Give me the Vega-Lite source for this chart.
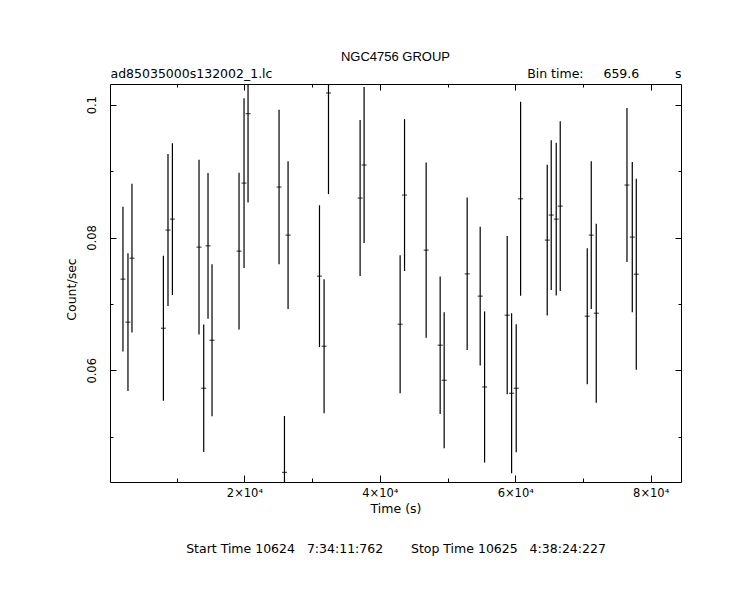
{
  "$schema": "https://vega.github.io/schema/vega-lite/v6.json",
  "width": 571,
  "height": 398,
  "autosize": "none",
  "padding": {"left": 110, "top": 84, "right": 62, "bottom": 125},
  "background": "white",
  "config": {
    "view": {"stroke": "black", "strokeWidth": 1},
    "axis": {
      "grid": false, "domain": false, "tickColor": "black", "tickWidth": 1,
      "labelColor": "black", "titleColor": "black",
      "labelFont": "DejaVu Sans", "titleFont": "DejaVu Sans",
      "labelFontSize": 11.5, "titleFontSize": 12.5, "titleFontWeight": "normal"
    }
  },
  "title": {
    "text": "NGC4756 GROUP", "font": "Liberation Sans", "fontSize": 13, "fontWeight": "normal",
    "color": "black", "anchor": "middle", "baseline": "alphabetic", "offset": -6
  },
  "data": {
    "values": [
      {"t": 2064, "rate": 0.07373, "lo": 0.06282, "hi": 0.08464},
      {"t": 2803, "rate": 0.06725, "lo": 0.05687, "hi": 0.07763},
      {"t": 3395, "rate": 0.07689, "lo": 0.06568, "hi": 0.0881},
      {"t": 8035, "rate": 0.06634, "lo": 0.05543, "hi": 0.07725},
      {"t": 8715, "rate": 0.08112, "lo": 0.06968, "hi": 0.09256},
      {"t": 9365, "rate": 0.08277, "lo": 0.07133, "hi": 0.09421},
      {"t": 13296, "rate": 0.07855, "lo": 0.06538, "hi": 0.09172},
      {"t": 13990, "rate": 0.0573, "lo": 0.0477, "hi": 0.0669},
      {"t": 14626, "rate": 0.07875, "lo": 0.06777, "hi": 0.08973},
      {"t": 15217, "rate": 0.06453, "lo": 0.05307, "hi": 0.07599},
      {"t": 19207, "rate": 0.07795, "lo": 0.06614, "hi": 0.08976},
      {"t": 19946, "rate": 0.0882, "lo": 0.07541, "hi": 0.10099},
      {"t": 20537, "rate": 0.09865, "lo": 0.08528, "hi": 0.11202},
      {"t": 25118, "rate": 0.0876, "lo": 0.07597, "hi": 0.09923},
      {"t": 25916, "rate": 0.04463, "lo": 0.03614, "hi": 0.05312},
      {"t": 26448, "rate": 0.08036, "lo": 0.06923, "hi": 0.09149},
      {"t": 31088, "rate": 0.07418, "lo": 0.0635, "hi": 0.08486},
      {"t": 31768, "rate": 0.06363, "lo": 0.05355, "hi": 0.07371},
      {"t": 32418, "rate": 0.10177, "lo": 0.08654, "hi": 0.117},
      {"t": 37088, "rate": 0.08594, "lo": 0.0742, "hi": 0.09768},
      {"t": 37679, "rate": 0.09092, "lo": 0.07918, "hi": 0.10266},
      {"t": 42999, "rate": 0.06694, "lo": 0.05656, "hi": 0.07732},
      {"t": 43650, "rate": 0.08639, "lo": 0.07495, "hi": 0.09783},
      {"t": 46842, "rate": 0.0781, "lo": 0.06489, "hi": 0.09131},
      {"t": 48911, "rate": 0.06378, "lo": 0.05343, "hi": 0.07413},
      {"t": 49502, "rate": 0.0585, "lo": 0.04827, "hi": 0.06873},
      {"t": 52900, "rate": 0.07453, "lo": 0.06305, "hi": 0.08601},
      {"t": 54822, "rate": 0.07117, "lo": 0.06071, "hi": 0.08163},
      {"t": 55472, "rate": 0.05749, "lo": 0.04611, "hi": 0.06887},
      {"t": 58812, "rate": 0.0683, "lo": 0.05639, "hi": 0.08021},
      {"t": 59462, "rate": 0.05654, "lo": 0.04448, "hi": 0.0686},
      {"t": 60142, "rate": 0.0573, "lo": 0.04767, "hi": 0.06693},
      {"t": 60792, "rate": 0.08583, "lo": 0.07123, "hi": 0.10043},
      {"t": 64723, "rate": 0.07961, "lo": 0.06825, "hi": 0.09097},
      {"t": 65314, "rate": 0.08338, "lo": 0.0721, "hi": 0.09466},
      {"t": 66053, "rate": 0.08277, "lo": 0.07126, "hi": 0.09428},
      {"t": 66644, "rate": 0.08473, "lo": 0.07194, "hi": 0.09752},
      {"t": 70634, "rate": 0.06815, "lo": 0.05792, "hi": 0.07838},
      {"t": 71225, "rate": 0.08036, "lo": 0.06923, "hi": 0.09149},
      {"t": 71964, "rate": 0.0686, "lo": 0.05513, "hi": 0.08207},
      {"t": 76501, "rate": 0.0879, "lo": 0.07631, "hi": 0.09949},
      {"t": 77284, "rate": 0.08006, "lo": 0.06873, "hi": 0.09139},
      {"t": 77875, "rate": 0.07448, "lo": 0.0601, "hi": 0.08886}
    ]
  },
  "layer": [
    {
      "mark": {"type": "rule", "color": "black", "strokeWidth": 1.2, "clip": true},
      "encoding": {
        "x": {
          "field": "t", "type": "quantitative",
          "scale": {"domain": [150, 84480], "nice": false, "zero": false},
          "axis": {
            "orient": "bottom", "values": [20000, 40000, 60000, 80000],
            "labelExpr": "(datum.value / 10000) + '×10⁴'",
            "tickSize": -7, "labelPadding": 21, "labelBaseline": "alphabetic",
            "title": "Time (s)", "titleY": 30, "titleBaseline": "alphabetic"
          }
        },
        "y": {
          "field": "lo", "type": "quantitative",
          "scale": {"domain": [0.04318, 0.10312], "nice": false, "zero": false},
          "axis": {
            "orient": "left", "values": [0.06, 0.08, 0.1], "format": "~g",
            "labelAngle": 270, "labelAlign": "center", "labelBaseline": "alphabetic",
            "tickSize": -6, "labelPadding": 21,
            "title": "Count/sec", "titleAngle": 270, "titleX": -35, "titleY": 205,
            "titleAlign": "center", "titleBaseline": "alphabetic"
          }
        },
        "y2": {"field": "hi"}
      }
    },
    {
      "mark": {"type": "tick", "orient": "horizontal", "size": 5, "thickness": 1.2, "color": "black", "clip": true},
      "encoding": {
        "x": {
          "field": "t", "type": "quantitative",
          "scale": {"domain": [150, 84480], "nice": false, "zero": false},
          "axis": {
            "orient": "bottom", "values": [10000, 30000, 50000, 70000], "labels": false,
            "tickSize": -4,
            "title": "Start Time 10624\u00a0\u00a0\u00a07:34:11:762\u00a0\u00a0\u00a0\u00a0\u00a0\u00a0\u00a0Stop Time 10625\u00a0\u00a0\u00a04:38:24:227",
            "titleY": 70.7, "titleBaseline": "alphabetic"
          }
        },
        "y": {
          "field": "rate", "type": "quantitative",
          "scale": {"domain": [0.04318, 0.10312], "nice": false, "zero": false},
          "axis": {"orient": "left", "values": [0.05, 0.07, 0.09], "labels": false, "tickSize": -3, "title": null}
        }
      }
    },
    {
      "mark": {"type": "point", "opacity": 0},
      "encoding": {
        "x": {
          "field": "t", "type": "quantitative",
          "scale": {"domain": [150, 84480], "nice": false, "zero": false},
          "axis": {
            "orient": "top", "values": [20000, 40000, 60000, 80000], "labels": false, "tickSize": -6,
            "title": "ad85035000s132002_1.lc", "titleAnchor": "start", "titleAlign": "left",
            "titleY": -6.3, "titleBaseline": "alphabetic"
          }
        },
        "y": {
          "field": "rate", "type": "quantitative",
          "scale": {"domain": [0.04318, 0.10312], "nice": false, "zero": false},
          "axis": {"orient": "right", "values": [0.06, 0.08, 0.1], "labels": false, "tickSize": -6, "title": null}
        }
      }
    },
    {
      "mark": {"type": "point", "opacity": 0},
      "encoding": {
        "x": {
          "field": "t", "type": "quantitative",
          "scale": {"domain": [150, 84480], "nice": false, "zero": false},
          "axis": {
            "orient": "top", "values": [10000, 30000, 50000, 70000], "labels": false, "tickSize": -3,
            "title": "Bin time:\u00a0\u00a0\u00a0\u00a0\u00a0659.6\u00a0\u00a0\u00a0\u00a0\u00a0\u00a0\u00a0\u00a0\u00a0s",
            "titleAnchor": "end", "titleAlign": "right",
            "titleY": -6.3, "titleBaseline": "alphabetic"
          }
        },
        "y": {
          "field": "rate", "type": "quantitative",
          "scale": {"domain": [0.04318, 0.10312], "nice": false, "zero": false},
          "axis": {"orient": "right", "values": [0.05, 0.07, 0.09], "labels": false, "tickSize": -3, "title": null}
        }
      }
    }
  ],
  "resolve": {"axis": {"x": "independent", "y": "independent"}}
}
